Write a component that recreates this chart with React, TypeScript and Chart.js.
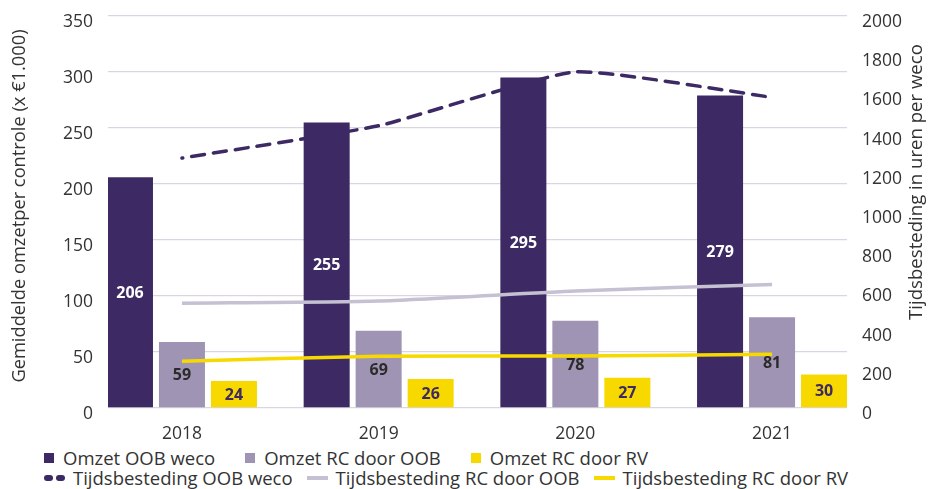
import React, { useEffect, useRef } from "react";
import { Chart, registerables } from "chart.js";
Chart.register(...registerables);

const years = ["2018", "2019", "2020", "2021"];
const omzetOOBWeco = [206, 255, 295, 279];
const omzetRCdoorOOB = [59, 69, 78, 81];
const omzetRCdoorRV = [24, 26, 27, 30];
const tijdOOBWeco = [1275, 1440, 1715, 1585];
const tijdRCdoorOOB = [535, 546, 597, 630];
const tijdRCdoorRV = [238, 264, 265, 274];

const leftTitle = "Gemiddelde omzetper controle (x €1.000)";
const rightTitle = "Tijdsbesteding in uren per weco";

const PURPLE = "#3d2963";
const LILAC = "#a094b4";
const YELLOW = "#f7d900";
const LINE_GRAY = "#c6c0d3";
const TEXT = "#333333";
const FONT = "'Open Sans', Lato, sans-serif";

const barLabels = [
  { name: "Omzet OOB weco", color: PURPLE },
  { name: "Omzet RC door OOB", color: LILAC },
  { name: "Omzet RC door RV", color: YELLOW },
];
const lineLabels = [
  { name: "Tijdsbesteding OOB weco", color: PURPLE, dashed: true },
  { name: "Tijdsbesteding RC door OOB", color: LINE_GRAY, dashed: false },
  { name: "Tijdsbesteding RC door RV", color: YELLOW, dashed: false },
];

const toXY = (arr: number[]) => arr.map((v, i) => ({ x: i, y: v }));

const labelPlugin = {
  id: "barValueLabels",
  afterDatasetsDraw(chart: any) {
    const ctx = chart.ctx;
    const colors = ["#ffffff", "#2b2b2b", PURPLE];
    ctx.save();
    ctx.font = `bold 16px ${FONT}`;
    ctx.textAlign = "center";
    ctx.textBaseline = "middle";
    [0, 1, 2].forEach((di) => {
      const meta = chart.getDatasetMeta(di);
      const ds = chart.data.datasets[di];
      meta.data.forEach((el: any, i: number) => {
        ctx.fillStyle = colors[di];
        const y = (el.y + el.base) / 2;
        ctx.fillText(String(ds.data[i].y), el.x, y + 1);
      });
    });
    ctx.restore();
  },
};

const titlesPlugin = {
  id: "axisTitles",
  afterDraw(chart: any) {
    const ctx = chart.ctx;
    const area = chart.chartArea;
    const mid = (area.top + area.bottom) / 2;
    ctx.save();
    ctx.fillStyle = TEXT;
    ctx.textAlign = "center";
    ctx.textBaseline = "middle";
    ctx.save();
    ctx.font = `18.3px ${FONT}`;
    ctx.translate(20, mid - 6);
    ctx.rotate(-Math.PI / 2);
    ctx.fillText(leftTitle, 0, 0);
    ctx.restore();
    ctx.save();
    ctx.font = `18.6px ${FONT}`;
    ctx.translate(chart.width - 16, mid - 30);
    ctx.rotate(-Math.PI / 2);
    ctx.fillText(rightTitle, 0, 0);
    ctx.restore();
    ctx.restore();
  },
};

const noPad = (s: any) => {
  s.paddingTop = 0;
  s.paddingBottom = 0;
  s.paddingLeft = 0;
  s.paddingRight = 0;
};

export default function App() {
  const ref = useRef<HTMLCanvasElement | null>(null);
  useEffect(() => {
    if (!ref.current) return;
    Chart.defaults.font.family = FONT;
    Chart.defaults.color = TEXT;
    const chart = new Chart(ref.current, {
      type: "bar",
      data: {
        datasets: [
          { type: "bar", label: barLabels[0].name, data: toXY(omzetOOBWeco), backgroundColor: PURPLE, yAxisID: "y", order: 2 },
          { type: "bar", label: barLabels[1].name, data: toXY(omzetRCdoorOOB), backgroundColor: LILAC, yAxisID: "y", order: 2 },
          { type: "bar", label: barLabels[2].name, data: toXY(omzetRCdoorRV), backgroundColor: YELLOW, yAxisID: "y", order: 2 },
          { type: "line", label: lineLabels[0].name, data: toXY(tijdOOBWeco), borderColor: PURPLE, borderWidth: 3.5, borderDash: [13, 9], borderDashOffset: 12, borderCapStyle: "round", pointRadius: 0, tension: 0.15, yAxisID: "y1", order: 0 },
          { type: "line", label: lineLabels[1].name, data: toXY(tijdRCdoorOOB), borderColor: LINE_GRAY, borderWidth: 3.5, pointRadius: 0, tension: 0.2, yAxisID: "y1", order: 0 },
          { type: "line", label: lineLabels[2].name, data: toXY(tijdRCdoorRV), borderColor: YELLOW, borderWidth: 3.5, pointRadius: 0, tension: 0.2, yAxisID: "y1", order: 0 },
        ] as any,
      },
      options: {
        animation: false,
        responsive: false,
        layout: { padding: { top: 16, left: 0, right: 0, bottom: 0 } },
        datasets: { bar: { categoryPercentage: 0.793, barPercentage: 0.885 } } as any,
        plugins: { legend: { display: false }, tooltip: { enabled: false } },
        scales: {
          x: {
            type: "linear",
            offset: false,
            min: -0.376,
            max: 3.381,
            grid: { display: false },
            border: { display: false },
            afterBuildTicks: (axis: any) => {
              axis.ticks = years.map((_, i) => ({ value: i }));
            },
            afterFit: (s: any) => {
              s.height = 37;
              noPad(s);
            },
            ticks: {
              autoSkip: false,
              maxRotation: 0,
              padding: 8,
              font: { size: 17.5 },
              color: TEXT,
              callback: (v: any) => years[v] ?? "",
            },
          },
          y: {
            position: "left",
            min: 0,
            max: 350,
            grid: { color: "#d9d5e1", lineWidth: 1.3, drawTicks: false },
            border: { display: false },
            afterFit: (s: any) => {
              s.width = 108;
              noPad(s);
            },
            ticks: { stepSize: 50, padding: 15, labelOffset: 6, font: { size: 17.5 }, color: TEXT, callback: (v: any) => String(v) },
          },
          y1: {
            position: "right",
            min: 0,
            max: 2000,
            grid: { display: false, drawTicks: false },
            border: { display: false },
            afterFit: (s: any) => {
              s.width = 86;
              noPad(s);
            },
            ticks: { stepSize: 200, padding: 15, labelOffset: 6, font: { size: 17.5 }, color: TEXT, callback: (v: any) => String(v) },
          },
        },
      },
      plugins: [labelPlugin, titlesPlugin],
    } as any);
    return () => chart.destroy();
  }, []);

  const textStyle: React.CSSProperties = { fontFamily: FONT, fontSize: 18.5, color: TEXT, whiteSpace: "nowrap", lineHeight: "20px" };

  return (
    <div style={{ position: "absolute", left: 0, top: 0, width: 933, height: 489 }}>
      <canvas ref={ref} width={933} height={445} style={{ display: "block", position: "absolute", left: 0, top: 0 }} />
      <div style={{ position: "absolute", left: 44, top: 448, display: "flex", alignItems: "center", height: 20 }}>
        {barLabels.map((l) => (
          <div key={l.name} style={{ display: "flex", alignItems: "center", marginRight: 30 }}>
            <span style={{ display: "inline-block", width: 10, height: 10, background: l.color, marginRight: 9 }} />
            <span style={textStyle}>{l.name}</span>
          </div>
        ))}
      </div>
      <div style={{ position: "absolute", left: 44, top: 468, display: "flex", alignItems: "center", height: 20 }}>
        {lineLabels.map((l) => (
          <div key={l.name} style={{ display: "flex", alignItems: "center", marginRight: 14 }}>
            {l.dashed ? (
              <span style={{ display: "inline-flex", alignItems: "center", marginRight: 8 }}>
                <span style={{ width: 9, height: 6, borderRadius: 3, background: l.color, marginRight: 3 }} />
                <span style={{ width: 9, height: 6, borderRadius: 3, background: l.color }} />
              </span>
            ) : (
              <span style={{ display: "inline-block", width: 21, height: 4, background: l.color, marginRight: 8 }} />
            )}
            <span style={textStyle}>{l.name}</span>
          </div>
        ))}
      </div>
    </div>
  );
}
